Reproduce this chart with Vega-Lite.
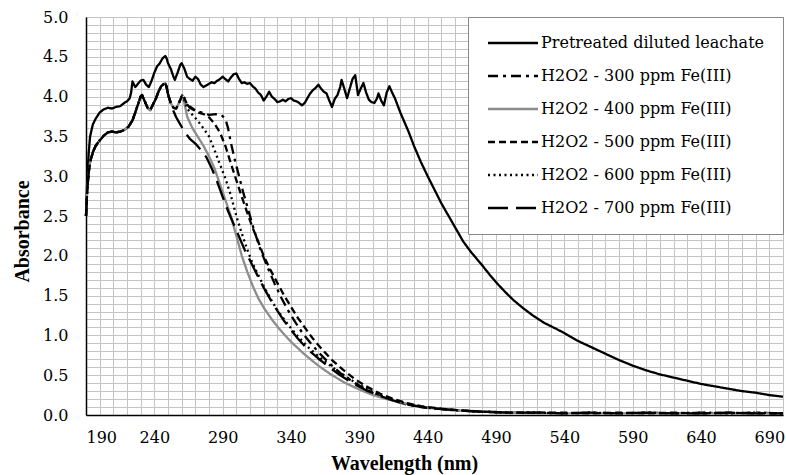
{
  "$schema": "https://vega.github.io/schema/vega-lite/v6.json",
  "width": 697,
  "height": 398,
  "autosize": {"type": "none"},
  "padding": {"left": 86, "top": 17, "right": 3, "bottom": 60},
  "background": "white",
  "config": {"view": {"stroke": "#555", "strokeWidth": 1}},
  "data": {"values": [
    {"x":190,"P":2.5},{"x":191,"P":3.0},{"x":192,"P":3.3},{"x":193,"P":3.5},{"x":195,"P":3.65},{"x":197,"P":3.72},{"x":200,"P":3.8},{"x":203,"P":3.84},{"x":206,"P":3.86},{"x":209,"P":3.85},{"x":212,"P":3.87},{"x":215,"P":3.88},{"x":218,"P":3.92},{"x":220,"P":3.94},{"x":222,"P":3.98},{"x":223,"P":4.05},{"x":224,"P":4.19},{"x":226,"P":4.12},{"x":228,"P":4.16},{"x":230,"P":4.2},{"x":232,"P":4.21},{"x":234,"P":4.15},{"x":236,"P":4.12},{"x":238,"P":4.2},{"x":240,"P":4.3},{"x":242,"P":4.38},{"x":244,"P":4.42},{"x":246,"P":4.48},{"x":248,"P":4.51},{"x":249,"P":4.48},{"x":250,"P":4.42},{"x":252,"P":4.35},{"x":254,"P":4.25},{"x":255,"P":4.21},{"x":257,"P":4.3},{"x":259,"P":4.4},{"x":260,"P":4.42},{"x":262,"P":4.35},{"x":264,"P":4.25},{"x":266,"P":4.22},{"x":268,"P":4.2},{"x":270,"P":4.25},{"x":272,"P":4.22},{"x":274,"P":4.15},{"x":276,"P":4.12},{"x":278,"P":4.14},{"x":280,"P":4.16},{"x":282,"P":4.18},{"x":284,"P":4.17},{"x":286,"P":4.2},{"x":288,"P":4.22},{"x":290,"P":4.25},{"x":292,"P":4.22},{"x":294,"P":4.19},{"x":296,"P":4.24},{"x":298,"P":4.28},{"x":300,"P":4.29},{"x":302,"P":4.22},{"x":304,"P":4.17},{"x":306,"P":4.18},{"x":308,"P":4.16},{"x":310,"P":4.17},{"x":312,"P":4.13},{"x":314,"P":4.1},{"x":316,"P":4.05},{"x":318,"P":4.02},{"x":320,"P":3.95},{"x":322,"P":4.0},{"x":324,"P":4.06},{"x":326,"P":4.0},{"x":328,"P":3.97},{"x":330,"P":3.93},{"x":332,"P":3.94},{"x":334,"P":3.96},{"x":336,"P":3.94},{"x":338,"P":3.97},{"x":340,"P":3.98},{"x":342,"P":3.95},{"x":344,"P":3.94},{"x":346,"P":3.92},{"x":348,"P":3.89},{"x":350,"P":3.92},{"x":352,"P":3.98},{"x":354,"P":4.04},{"x":356,"P":4.08},{"x":358,"P":4.11},{"x":360,"P":4.15},{"x":362,"P":4.1},{"x":364,"P":4.06},{"x":366,"P":4.04},{"x":368,"P":3.95},{"x":370,"P":3.87},{"x":372,"P":3.97},{"x":374,"P":4.02},{"x":376,"P":4.12},{"x":377,"P":4.21},{"x":379,"P":4.1},{"x":381,"P":3.98},{"x":383,"P":4.1},{"x":385,"P":4.22},{"x":387,"P":4.27},{"x":389,"P":4.02},{"x":391,"P":4.1},{"x":393,"P":4.17},{"x":395,"P":4.05},{"x":397,"P":3.96},{"x":399,"P":3.93},{"x":401,"P":3.92},{"x":403,"P":3.98},{"x":404,"P":4.04},{"x":406,"P":3.95},{"x":408,"P":3.89},{"x":410,"P":4.05},{"x":412,"P":4.13},{"x":414,"P":4.05},{"x":416,"P":3.98},{"x":418,"P":3.89},{"x":420,"P":3.8},{"x":423,"P":3.68},{"x":426,"P":3.56},{"x":430,"P":3.38},{"x":435,"P":3.18},{"x":440,"P":3.0},{"x":445,"P":2.83},{"x":450,"P":2.66},{"x":455,"P":2.51},{"x":460,"P":2.36},{"x":466,"P":2.18},{"x":472,"P":2.04},{"x":479,"P":1.9},{"x":485,"P":1.77},{"x":491,"P":1.65},{"x":497,"P":1.54},{"x":503,"P":1.44},{"x":510,"P":1.34},{"x":517,"P":1.25},{"x":525,"P":1.16},{"x":532,"P":1.1},{"x":540,"P":1.03},{"x":550,"P":0.93},{"x":560,"P":0.85},{"x":570,"P":0.77},{"x":580,"P":0.69},{"x":590,"P":0.62},{"x":600,"P":0.56},{"x":610,"P":0.51},{"x":620,"P":0.47},{"x":630,"P":0.43},{"x":640,"P":0.39},{"x":650,"P":0.36},{"x":660,"P":0.33},{"x":670,"P":0.3},{"x":680,"P":0.28},{"x":690,"P":0.25},{"x":700,"P":0.23},

    {"x":190,"A":2.5,"B":2.5,"C":2.5,"D":2.5,"E":2.5},
    {"x":191,"A":2.85,"B":2.85,"C":2.85,"D":2.85,"E":2.85},
    {"x":192,"A":3.05,"B":3.05,"C":3.05,"D":3.05,"E":3.05},
    {"x":193,"A":3.18,"B":3.18,"C":3.18,"D":3.18,"E":3.18},
    {"x":195,"A":3.3,"B":3.3,"C":3.3,"D":3.3,"E":3.3},
    {"x":197,"A":3.38,"B":3.38,"C":3.38,"D":3.38,"E":3.38},
    {"x":200,"A":3.45,"B":3.45,"C":3.45,"D":3.45,"E":3.45},
    {"x":203,"A":3.51,"B":3.51,"C":3.51,"D":3.51,"E":3.51},
    {"x":206,"A":3.55,"B":3.55,"C":3.55,"D":3.55,"E":3.55},
    {"x":209,"A":3.56,"B":3.56,"C":3.56,"D":3.56,"E":3.56},
    {"x":212,"A":3.55,"B":3.55,"C":3.55,"D":3.55,"E":3.55},
    {"x":215,"A":3.56,"B":3.56,"C":3.56,"D":3.56,"E":3.56},
    {"x":218,"A":3.58,"B":3.58,"C":3.58,"D":3.58,"E":3.58},
    {"x":221,"A":3.62,"B":3.62,"C":3.62,"D":3.62,"E":3.62},
    {"x":224,"A":3.7,"B":3.7,"C":3.7,"D":3.7,"E":3.7},
    {"x":226,"A":3.8,"B":3.8,"C":3.8,"D":3.8,"E":3.8},
    {"x":228,"A":3.9,"B":3.9,"C":3.9,"D":3.9,"E":3.9},
    {"x":230,"A":4.0,"B":4.0,"C":4.0,"D":4.0,"E":4.0},
    {"x":231,"A":4.02,"B":4.02,"C":4.02,"D":4.02,"E":4.02},
    {"x":233,"A":3.94,"B":3.94,"C":3.94,"D":3.94,"E":3.94},
    {"x":235,"A":3.86,"B":3.86,"C":3.86,"D":3.86,"E":3.86},
    {"x":237,"A":3.83,"B":3.83,"C":3.83,"D":3.83,"E":3.83},
    {"x":239,"A":3.9,"B":3.9,"C":3.9,"D":3.9,"E":3.9},
    {"x":241,"A":3.97,"B":3.97,"C":3.97,"D":3.97,"E":3.97},
    {"x":243,"A":4.06,"B":4.06,"C":4.06,"D":4.06,"E":4.06},
    {"x":245,"A":4.13,"B":4.13,"C":4.13,"D":4.13,"E":4.13},
    {"x":247,"A":4.16,"B":4.16,"C":4.16,"D":4.16,"E":4.16},
    {"x":248,"A":4.17,"B":4.17,"C":4.17,"D":4.17,"E":4.17},
    {"x":249,"A":4.12,"B":4.12,"C":4.12,"D":4.12,"E":4.12},
    {"x":250,"A":4.03,"B":4.03,"C":4.03,"D":4.03,"E":4.03},
    {"x":252,"A":3.92,"B":3.92,"C":3.92,"D":3.92,"E":3.92},
    {"x":254,"A":3.86,"B":3.86,"C":3.86,"D":3.86,"E":3.82},
    {"x":256,"A":3.85,"B":3.85,"C":3.85,"D":3.85,"E":3.74},
    {"x":258,"A":3.92,"B":3.92,"C":3.92,"D":3.92,"E":3.68},
    {"x":260,"A":4.0,"B":4.0,"C":4.0,"D":4.0},
    {"x":261,"A":4.04,"B":3.98,"C":4.02,"D":4.0},

    {"x":263,"A":3.92},{"x":266,"A":3.86},{"x":270,"A":3.82},{"x":275,"A":3.8},{"x":280,"A":3.77},{"x":285,"A":3.78},{"x":289,"A":3.77},{"x":292,"A":3.72},{"x":294,"A":3.6},{"x":296,"A":3.42},{"x":299,"A":3.2},{"x":302,"A":3.0},{"x":305,"A":2.8},{"x":309,"A":2.56},{"x":313,"A":2.32},{"x":318,"A":2.06},{"x":323,"A":1.85},{"x":328,"A":1.65},{"x":333,"A":1.47},{"x":338,"A":1.31},{"x":343,"A":1.17},{"x":348,"A":1.04},{"x":354,"A":0.91},{"x":360,"A":0.79},{"x":368,"A":0.65},{"x":376,"A":0.53},{"x":385,"A":0.42},{"x":395,"A":0.32},{"x":405,"A":0.24},{"x":415,"A":0.18},{"x":425,"A":0.13},{"x":435,"A":0.1},{"x":450,"A":0.07},{"x":470,"A":0.05},{"x":500,"A":0.03},

    {"x":262,"B":3.92},{"x":264,"B":3.75},{"x":268,"B":3.6},{"x":272,"B":3.49},{"x":276,"B":3.38},{"x":280,"B":3.25},{"x":284,"B":3.1},{"x":288,"B":2.9},{"x":292,"B":2.7},{"x":296,"B":2.5},{"x":300,"B":2.25},{"x":304,"B":2.0},{"x":308,"B":1.8},{"x":312,"B":1.62},{"x":316,"B":1.47},{"x":320,"B":1.35},{"x":326,"B":1.2},{"x":332,"B":1.07},{"x":340,"B":0.92},{"x":350,"B":0.76},{"x":360,"B":0.62},{"x":370,"B":0.5},{"x":380,"B":0.4},{"x":390,"B":0.32},{"x":400,"B":0.25},{"x":410,"B":0.2},{"x":425,"B":0.14},{"x":440,"B":0.09},{"x":460,"B":0.06},{"x":480,"B":0.04},{"x":500,"B":0.03},

    {"x":264,"C":3.9},{"x":268,"C":3.85},{"x":272,"C":3.8},{"x":276,"C":3.78},{"x":280,"C":3.74},{"x":284,"C":3.66},{"x":288,"C":3.55},{"x":292,"C":3.38},{"x":296,"C":3.16},{"x":300,"C":2.95},{"x":304,"C":2.74},{"x":308,"C":2.54},{"x":312,"C":2.35},{"x":316,"C":2.18},{"x":320,"C":2.0},{"x":325,"C":1.82},{"x":330,"C":1.66},{"x":335,"C":1.5},{"x":340,"C":1.36},{"x":345,"C":1.22},{"x":350,"C":1.1},{"x":356,"C":0.96},{"x":362,"C":0.84},{"x":370,"C":0.69},{"x":378,"C":0.57},{"x":386,"C":0.46},{"x":395,"C":0.36},{"x":405,"C":0.27},{"x":415,"C":0.2},{"x":425,"C":0.15},{"x":435,"C":0.11},{"x":450,"C":0.08},{"x":470,"C":0.05},{"x":500,"C":0.03},

    {"x":264,"D":3.85},{"x":268,"D":3.77},{"x":272,"D":3.69},{"x":276,"D":3.6},{"x":280,"D":3.5},{"x":284,"D":3.33},{"x":288,"D":3.15},{"x":292,"D":2.97},{"x":296,"D":2.76},{"x":300,"D":2.5},{"x":304,"D":2.28},{"x":308,"D":2.08},{"x":312,"D":1.9},{"x":316,"D":1.76},{"x":320,"D":1.62},{"x":325,"D":1.46},{"x":330,"D":1.32},{"x":335,"D":1.2},{"x":340,"D":1.09},{"x":345,"D":0.99},{"x":352,"D":0.86},{"x":360,"D":0.74},{"x":368,"D":0.63},{"x":376,"D":0.53},{"x":385,"D":0.43},{"x":395,"D":0.33},{"x":405,"D":0.25},{"x":415,"D":0.19},{"x":425,"D":0.14},{"x":440,"D":0.09},{"x":460,"D":0.06},{"x":480,"D":0.04},{"x":500,"D":0.03},

    {"x":262,"E":3.56},{"x":266,"E":3.47},{"x":270,"E":3.41},{"x":274,"E":3.33},{"x":278,"E":3.24},{"x":282,"E":3.1},{"x":286,"E":2.93},{"x":290,"E":2.74},{"x":294,"E":2.56},{"x":298,"E":2.4},{"x":302,"E":2.24},{"x":306,"E":2.08},{"x":310,"E":1.94},{"x":315,"E":1.77},{"x":320,"E":1.6},{"x":325,"E":1.45},{"x":330,"E":1.31},{"x":335,"E":1.18},{"x":340,"E":1.07},{"x":345,"E":0.96},{"x":352,"E":0.83},{"x":360,"E":0.71},{"x":368,"E":0.6},{"x":376,"E":0.5},{"x":385,"E":0.4},{"x":395,"E":0.31},{"x":405,"E":0.24},{"x":415,"E":0.18},{"x":425,"E":0.13},{"x":440,"E":0.09},{"x":460,"E":0.06},{"x":480,"E":0.04},{"x":500,"E":0.03},

    {"x":520,"A":0.03,"B":0.02,"C":0.03,"D":0.03,"E":0.03},
    {"x":540,"A":0.02,"B":0.02,"C":0.03,"D":0.02,"E":0.02},
    {"x":560,"A":0.03,"B":0.02,"C":0.02,"D":0.03,"E":0.03},
    {"x":580,"A":0.02,"B":0.02,"C":0.03,"D":0.02,"E":0.02},
    {"x":600,"A":0.03,"B":0.02,"C":0.02,"D":0.03,"E":0.03},
    {"x":620,"A":0.02,"B":0.02,"C":0.03,"D":0.02,"E":0.02},
    {"x":640,"A":0.03,"B":0.02,"C":0.02,"D":0.03,"E":0.02},
    {"x":660,"A":0.02,"B":0.02,"C":0.03,"D":0.02,"E":0.03},
    {"x":680,"A":0.03,"B":0.02,"C":0.02,"D":0.03,"E":0.02},
    {"x":700,"A":0.02,"B":0.02,"C":0.02,"D":0.02,"E":0.02}
  ]},
  "transform": [
    {"fold": ["P", "A", "B", "C", "D", "E"], "as": ["k", "y"]},
    {"filter": "isValid(datum.y)"},
    {"lookup": "k", "from": {"data": {"values": [
      {"k": "P", "name": "Pretreated diluted leachate"},
      {"k": "A", "name": "H2O2 - 300 ppm Fe(III)"},
      {"k": "B", "name": "H2O2 - 400 ppm Fe(III)"},
      {"k": "C", "name": "H2O2 - 500 ppm Fe(III)"},
      {"k": "D", "name": "H2O2 - 600 ppm Fe(III)"},
      {"k": "E", "name": "H2O2 - 700 ppm Fe(III)"}
    ]}, "key": "k", "fields": ["name"]}}
  ],
  "mark": {"type": "line", "strokeWidth": 2.3, "strokeCap": "butt", "strokeJoin": "round"},
  "encoding": {
    "x": {
      "field": "x", "type": "quantitative",
      "scale": {"domain": [190, 700], "nice": false, "zero": false},
      "axis": {
        "title": "Wavelength (nm)",
        "values": [190,200,210,220,230,240,250,260,270,280,290,300,310,320,330,340,350,360,370,380,390,400,410,420,430,440,450,460,470,480,490,500,510,520,530,540,550,560,570,580,590,600,610,620,630,640,650,660,670,680,690,700],
        "labelExpr": "(datum.value - 190) % 50 == 0 ? datum.label : ''",
        "labelOverlap": false,
        "grid": true, "gridColor": "#c4c4c4", "gridWidth": 1,
        "ticks": false, "tickSize": 0,
        "domainColor": "#000", "domainWidth": 1.5,
        "labelFont": "DejaVu Serif", "labelFontSize": 16, "labelColor": "#000", "labelPadding": 14,
        "titleFont": "Liberation Serif", "titleFontSize": 20, "titleFontWeight": "bold", "titleColor": "#000", "titlePadding": 8,
        "titleX": 318
      }
    },
    "y": {
      "field": "y", "type": "quantitative",
      "scale": {"domain": [0, 5], "nice": false},
      "axis": {
        "title": "Absorbance",
        "values": [0,0.1,0.2,0.3,0.4,0.5,0.6,0.7,0.8,0.9,1.0,1.1,1.2,1.3,1.4,1.5,1.6,1.7,1.8,1.9,2.0,2.1,2.2,2.3,2.4,2.5,2.6,2.7,2.8,2.9,3.0,3.1,3.2,3.3,3.4,3.5,3.6,3.7,3.8,3.9,4.0,4.1,4.2,4.3,4.4,4.5,4.6,4.7,4.8,4.9,5.0],
        "labelExpr": "abs(datum.value * 2 - round(datum.value * 2)) < 0.001 ? format(datum.value, '.1f') : ''",
        "labelOverlap": false,
        "grid": true, "gridColor": "#c4c4c4", "gridWidth": 1,
        "ticks": false, "tickSize": 0,
        "domainColor": "#000", "domainWidth": 1.5,
        "labelFont": "DejaVu Serif", "labelFontSize": 16, "labelColor": "#000", "labelPadding": 18,
        "titleFont": "Liberation Serif", "titleFontSize": 20, "titleFontWeight": "bold", "titleColor": "#000", "titlePadding": 10,
        "titleY": 214
      }
    },
    "color": {
      "field": "name", "type": "nominal",
      "scale": {
        "domain": ["Pretreated diluted leachate", "H2O2 - 300 ppm Fe(III)", "H2O2 - 400 ppm Fe(III)", "H2O2 - 500 ppm Fe(III)", "H2O2 - 600 ppm Fe(III)", "H2O2 - 700 ppm Fe(III)"],
        "range": ["#000000", "#000000", "#8c8c8c", "#000000", "#000000", "#000000"]
      },
      "legend": {
        "orient": "top-right", "offset": 0, "title": null,
        "symbolType": "M-1.2,0H8.8", "symbolSize": 100, "symbolStrokeWidth": 2.5,
        "labelFont": "DejaVu Serif", "labelFontSize": 16, "labelColor": "#000", "labelLimit": 320, "labelOffset": 39,
        "fillColor": "#ffffff", "strokeColor": "#888888", "padding": 18, "rowPadding": 17
      }
    },
    "strokeDash": {
      "field": "name", "type": "nominal",
      "scale": {
        "domain": ["Pretreated diluted leachate", "H2O2 - 300 ppm Fe(III)", "H2O2 - 400 ppm Fe(III)", "H2O2 - 500 ppm Fe(III)", "H2O2 - 600 ppm Fe(III)", "H2O2 - 700 ppm Fe(III)"],
        "range": [[1, 0], [10, 5, 3, 5], [1, 0], [7, 4], [2, 3.5], [20, 8]]
      },
      "legend": {
        "orient": "top-right", "offset": 0, "title": null,
        "symbolType": "M-1.2,0H8.8", "symbolSize": 100, "symbolStrokeWidth": 2.5,
        "labelFont": "DejaVu Serif", "labelFontSize": 16, "labelColor": "#000", "labelLimit": 320, "labelOffset": 39,
        "fillColor": "#ffffff", "strokeColor": "#888888", "padding": 18, "rowPadding": 17
      }
    }
  }
}
